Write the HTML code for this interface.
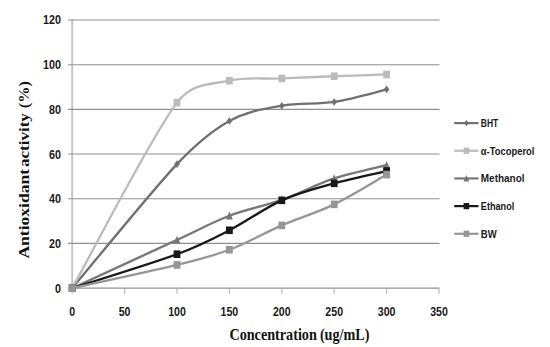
<!DOCTYPE html>
<html><head><meta charset="utf-8"><style>
html,body{margin:0;padding:0;background:#fff;width:550px;height:347px;overflow:hidden;}
svg{display:block;}

</style></head><body>
<svg width="550" height="347" viewBox="0 0 550 347"><g stroke="#c6c6c6" stroke-width="2"><line x1="72.20" y1="19.50" x2="72.20" y2="288.70"/></g>
<g stroke="#bdbdbd" stroke-width="1.3"><line x1="72.20" y1="288.70" x2="72.20" y2="293.70"/><line x1="124.60" y1="288.70" x2="124.60" y2="293.70"/><line x1="177.00" y1="288.70" x2="177.00" y2="293.70"/><line x1="229.40" y1="288.70" x2="229.40" y2="293.70"/><line x1="281.80" y1="288.70" x2="281.80" y2="293.70"/><line x1="334.20" y1="288.70" x2="334.20" y2="293.70"/><line x1="386.60" y1="288.70" x2="386.60" y2="293.70"/><line x1="439.00" y1="288.70" x2="439.00" y2="293.70"/></g>
<g stroke="#909090" stroke-width="1.1"><line x1="68" y1="20.00" x2="439.5" y2="20.00"/><line x1="68" y1="64.68" x2="439.5" y2="64.68"/><line x1="68" y1="109.36" x2="439.5" y2="109.36"/><line x1="68" y1="154.04" x2="439.5" y2="154.04"/><line x1="68" y1="198.72" x2="439.5" y2="198.72"/><line x1="68" y1="243.40" x2="439.5" y2="243.40"/><line x1="68" y1="288.08" x2="439.5" y2="288.08"/></g>
<path d="M72.20 288.20 C89.67 267.52 150.80 191.98 177.00 164.10 C196.98 142.84 211.93 130.67 229.40 120.95 C246.87 111.22 264.33 108.91 281.80 105.74 C299.27 102.57 316.73 104.66 334.20 101.94 C351.67 99.22 377.87 91.51 386.60 89.42" fill="none" stroke="#707070" stroke-width="2.3" stroke-linejoin="round"/>
<path d="M72.20 284.40 L75.00 288.20 L72.20 292.00 L69.40 288.20 Z" fill="#707070"/>
<path d="M177.00 160.30 L179.80 164.10 L177.00 167.90 L174.20 164.10 Z" fill="#707070"/>
<path d="M229.40 117.15 L232.20 120.95 L229.40 124.75 L226.60 120.95 Z" fill="#707070"/>
<path d="M281.80 101.94 L284.60 105.74 L281.80 109.54 L279.00 105.74 Z" fill="#707070"/>
<path d="M334.20 98.14 L337.00 101.94 L334.20 105.74 L331.40 101.94 Z" fill="#707070"/>
<path d="M386.60 85.62 L389.40 89.42 L386.60 93.22 L383.80 89.42 Z" fill="#707070"/>
<path d="M72.20 288.20 C89.67 257.27 150.80 137.20 177.00 102.61 C192.71 81.88 211.93 84.72 229.40 80.70 C246.87 76.67 264.33 79.21 281.80 78.46 C299.27 77.72 316.73 76.90 334.20 76.23 C351.67 75.56 377.87 74.74 386.60 74.44" fill="none" stroke="#bbbbbb" stroke-width="2.3" stroke-linejoin="round"/>
<rect x="68.80" y="284.40" width="6.80" height="7.60" fill="#bbbbbb"/>
<rect x="173.60" y="98.81" width="6.80" height="7.60" fill="#bbbbbb"/>
<rect x="226.00" y="76.90" width="6.80" height="7.60" fill="#bbbbbb"/>
<rect x="278.40" y="74.66" width="6.80" height="7.60" fill="#bbbbbb"/>
<rect x="330.80" y="72.43" width="6.80" height="7.60" fill="#bbbbbb"/>
<rect x="383.20" y="70.64" width="6.80" height="7.60" fill="#bbbbbb"/>
<path d="M72.20 288.20 C89.67 280.15 150.80 251.98 177.00 239.90 C199.01 229.76 211.93 222.42 229.40 215.75 C246.87 209.08 264.33 206.10 281.80 199.88 C299.27 193.65 316.73 184.19 334.20 178.41 C351.67 172.64 377.87 167.42 386.60 165.22" fill="none" stroke="#777777" stroke-width="2.3" stroke-linejoin="round"/>
<path d="M72.20 284.04 L75.70 292.04 L68.70 292.04 Z" fill="#777777"/>
<path d="M177.00 235.74 L180.50 243.74 L173.50 243.74 Z" fill="#777777"/>
<path d="M229.40 211.59 L232.90 219.59 L225.90 219.59 Z" fill="#777777"/>
<path d="M281.80 195.72 L285.30 203.72 L278.30 203.72 Z" fill="#777777"/>
<path d="M334.20 174.25 L337.70 182.25 L330.70 182.25 Z" fill="#777777"/>
<path d="M386.60 161.06 L390.10 169.06 L383.10 169.06 Z" fill="#777777"/>
<path d="M72.20 288.20 C89.67 282.54 150.80 263.86 177.00 254.21 C199.51 245.92 211.93 239.27 229.40 230.29 C246.87 221.31 264.33 208.15 281.80 200.33 C299.27 192.50 316.73 188.21 334.20 183.33 C351.67 178.45 377.87 173.08 386.60 171.03" fill="none" stroke="#181818" stroke-width="2.3" stroke-linejoin="round"/>
<rect x="68.80" y="284.40" width="6.80" height="7.60" fill="#181818"/>
<rect x="173.60" y="250.41" width="6.80" height="7.60" fill="#181818"/>
<rect x="226.00" y="226.49" width="6.80" height="7.60" fill="#181818"/>
<rect x="278.40" y="196.53" width="6.80" height="7.60" fill="#181818"/>
<rect x="330.80" y="179.53" width="6.80" height="7.60" fill="#181818"/>
<rect x="383.20" y="167.23" width="6.80" height="7.60" fill="#181818"/>
<path d="M72.20 288.20 C89.67 284.32 150.80 271.36 177.00 264.95 C199.18 259.52 211.93 256.34 229.40 249.74 C246.87 243.14 264.33 232.93 281.80 225.37 C299.27 217.80 316.73 212.81 334.20 204.35 C351.67 195.89 377.87 179.57 386.60 174.61" fill="none" stroke="#969696" stroke-width="2.3" stroke-linejoin="round"/>
<rect x="68.80" y="284.40" width="6.80" height="7.60" fill="#969696"/>
<rect x="173.60" y="261.15" width="6.80" height="7.60" fill="#969696"/>
<rect x="226.00" y="245.94" width="6.80" height="7.60" fill="#969696"/>
<rect x="278.40" y="221.57" width="6.80" height="7.60" fill="#969696"/>
<rect x="330.80" y="200.55" width="6.80" height="7.60" fill="#969696"/>
<rect x="383.20" y="170.81" width="6.80" height="7.60" fill="#969696"/>
<g font-family="Liberation Sans" font-weight="bold" font-size="13" fill="#1a1a1a" transform=""><text x="61" y="292.70" text-anchor="end" textLength="6.0" lengthAdjust="spacingAndGlyphs">0</text><text x="61" y="247.98" text-anchor="end" textLength="12.0" lengthAdjust="spacingAndGlyphs">20</text><text x="61" y="203.26" text-anchor="end" textLength="12.0" lengthAdjust="spacingAndGlyphs">40</text><text x="61" y="158.54" text-anchor="end" textLength="12.0" lengthAdjust="spacingAndGlyphs">60</text><text x="61" y="113.82" text-anchor="end" textLength="12.0" lengthAdjust="spacingAndGlyphs">80</text><text x="61" y="69.10" text-anchor="end" textLength="18.0" lengthAdjust="spacingAndGlyphs">100</text><text x="61" y="24.38" text-anchor="end" textLength="18.0" lengthAdjust="spacingAndGlyphs">120</text></g>
<g font-family="Liberation Sans" font-weight="bold" font-size="13" fill="#1a1a1a"><text x="72.20" y="315.9" text-anchor="middle" textLength="5.9" lengthAdjust="spacingAndGlyphs">0</text><text x="124.60" y="315.9" text-anchor="middle" textLength="11.8" lengthAdjust="spacingAndGlyphs">50</text><text x="177.00" y="315.9" text-anchor="middle" textLength="17.7" lengthAdjust="spacingAndGlyphs">100</text><text x="229.40" y="315.9" text-anchor="middle" textLength="17.7" lengthAdjust="spacingAndGlyphs">150</text><text x="281.80" y="315.9" text-anchor="middle" textLength="17.7" lengthAdjust="spacingAndGlyphs">200</text><text x="334.20" y="315.9" text-anchor="middle" textLength="17.7" lengthAdjust="spacingAndGlyphs">250</text><text x="386.60" y="315.9" text-anchor="middle" textLength="17.7" lengthAdjust="spacingAndGlyphs">300</text><text x="439.00" y="315.9" text-anchor="middle" textLength="17.7" lengthAdjust="spacingAndGlyphs">350</text></g>
<g font-family="Liberation Serif" font-weight="bold" font-size="17" fill="#111"><text x="229.4" y="339.5" textLength="87.4" lengthAdjust="spacingAndGlyphs">Concentration</text><text x="319.9" y="339.5" textLength="49.6" lengthAdjust="spacingAndGlyphs">(ug/mL)</text><g transform="translate(28.6,258.6) rotate(-90) scale(1,0.83)"><text x="0" y="0" textLength="89.6" lengthAdjust="spacingAndGlyphs">Antioxidant</text><text x="91.6" y="0" textLength="53.9" lengthAdjust="spacingAndGlyphs">activity</text><text x="150.4" y="0" textLength="27" lengthAdjust="spacingAndGlyphs">(%)</text></g></g>
<line x1="454.2" y1="123.10" x2="478.5" y2="123.10" stroke="#707070" stroke-width="2.2"/>
<path d="M466.40 119.98 L468.70 123.10 L466.40 126.22 L464.10 123.10 Z" fill="#707070"/>
<text x="480.8" y="126.90" font-family="Liberation Sans" font-weight="bold" font-size="10.5" textLength="17.5" lengthAdjust="spacingAndGlyphs" fill="#1a1a1a">BHT</text>
<line x1="454.2" y1="150.77" x2="478.5" y2="150.77" stroke="#bbbbbb" stroke-width="2.2"/>
<rect x="463.61" y="147.65" width="5.58" height="6.23" fill="#bbbbbb"/>
<text x="480.8" y="154.57" font-family="Liberation Sans" font-weight="bold" font-size="10.5" textLength="53.7" lengthAdjust="spacingAndGlyphs" fill="#1a1a1a">α-Tocoperol</text>
<line x1="454.2" y1="178.44" x2="478.5" y2="178.44" stroke="#777777" stroke-width="2.2"/>
<path d="M466.40 175.03 L469.27 181.59 L463.53 181.59 Z" fill="#777777"/>
<text x="480.8" y="182.24" font-family="Liberation Sans" font-weight="bold" font-size="10.5" textLength="43.8" lengthAdjust="spacingAndGlyphs" fill="#1a1a1a">Methanol</text>
<line x1="454.2" y1="206.11" x2="478.5" y2="206.11" stroke="#181818" stroke-width="2.2"/>
<rect x="463.61" y="202.99" width="5.58" height="6.23" fill="#181818"/>
<text x="480.8" y="209.91" font-family="Liberation Sans" font-weight="bold" font-size="10.5" textLength="33.5" lengthAdjust="spacingAndGlyphs" fill="#1a1a1a">Ethanol</text>
<line x1="454.2" y1="233.78" x2="478.5" y2="233.78" stroke="#969696" stroke-width="2.2"/>
<rect x="463.61" y="230.66" width="5.58" height="6.23" fill="#969696"/>
<text x="480.8" y="237.58" font-family="Liberation Sans" font-weight="bold" font-size="10.5" textLength="15.8" lengthAdjust="spacingAndGlyphs" fill="#1a1a1a">BW</text></svg>
</body></html>
